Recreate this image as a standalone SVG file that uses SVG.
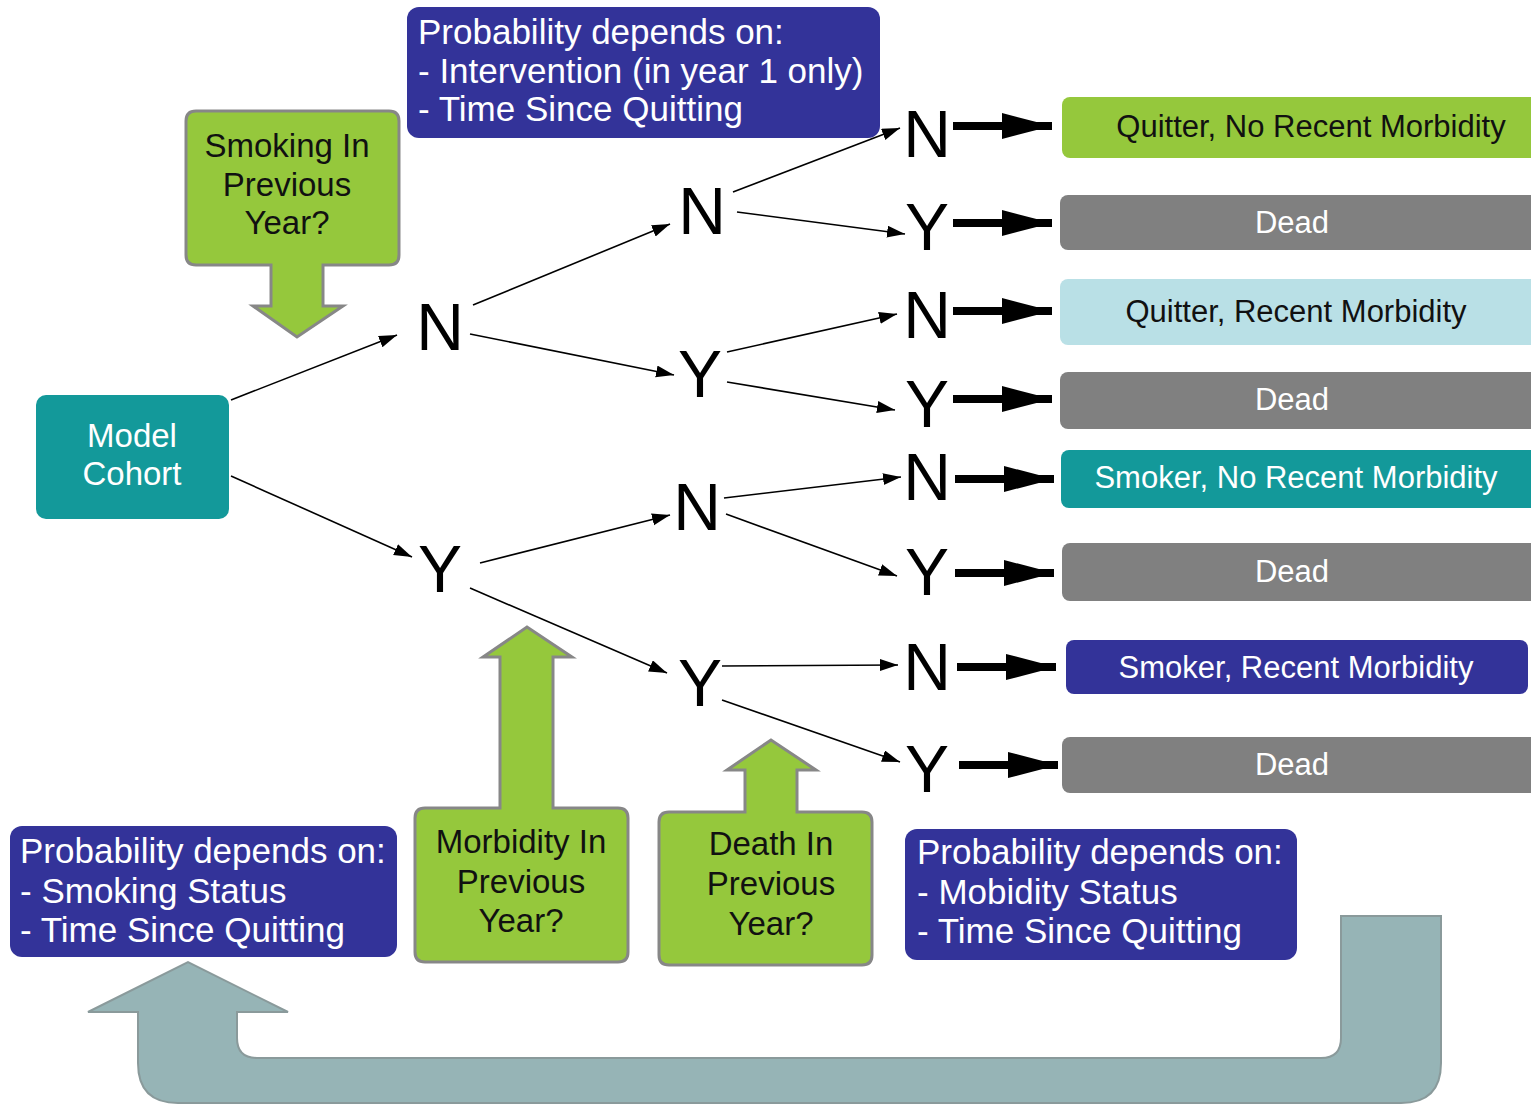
<svg xmlns="http://www.w3.org/2000/svg" width="1531" height="1104" viewBox="0 0 1531 1104">
<style>
text{font-family:"Liberation Sans",Arial,sans-serif}
.call{fill:#95c83c;stroke:#878787;stroke-width:3}
.calltxt{font-size:33px;fill:#111;text-anchor:middle}
.blue{fill:#333399}
.bluetxt{font-size:35px;fill:#fff}
.teal{fill:#13999a}
.gray{fill:#808080}
.green{fill:#95c83c}
.lblue{fill:#b9e0e6}
.leaf{font-size:31px;text-anchor:middle}
.w{fill:#fff}
.d{fill:#111}
.let{font-size:66px;fill:#000;text-anchor:middle}
.thin{stroke:#000;stroke-width:1.6;fill:none;marker-end:url(#sm)}
.thick{stroke:#000;stroke-width:8;fill:none;marker-end:url(#big)}
</style>
<defs>
<marker id="sm" markerUnits="userSpaceOnUse" markerWidth="20" markerHeight="14" refX="18" refY="6" orient="auto"><path d="M0,0 L18,6 L0,12 z" fill="#000"/></marker>
<marker id="big" markerUnits="userSpaceOnUse" markerWidth="54" markerHeight="28" refX="50" refY="13" orient="auto"><path d="M0,0 L50,13 L0,26 z" fill="#000"/></marker>
</defs>
<rect width="1531" height="1104" fill="#fff"/>

<g id="loop-arrow">
<path d="M1441,916 V1063 Q1441,1103 1401,1103 H178 Q138,1103 138,1063 V1012 H88 L188,962 L288,1012 H237 V1038 Q237,1058 257,1058 H1321 Q1341,1058 1341,1038 V916 Z" fill="#96b4b6" stroke="#8a9a9b" stroke-width="2"/>
</g>

<g id="prob-top">
<rect x="407" y="7" width="473" height="131" rx="12" class="blue"/>
<text class="bluetxt" x="418" y="44">Probability depends on:</text>
<text class="bluetxt" x="418" y="83">- Intervention (in year 1 only)</text>
<text class="bluetxt" x="418" y="121">- Time Since Quitting</text>
</g>

<g id="smoking-q">
<path class="call" d="M196,111 H389 Q399,111 399,121 V255 Q399,265 389,265 H323 V306 H343 L297,337 L253,306 H271 V265 H196 Q186,265 186,255 V121 Q186,111 196,111 Z"/>
<text class="calltxt" x="287" y="157">Smoking In</text>
<text class="calltxt" x="287" y="196">Previous</text>
<text class="calltxt" x="287" y="234">Year?</text>
</g>

<g id="model-cohort">
<rect x="36" y="395" width="193" height="124" rx="10" class="teal"/>
<text class="calltxt" x="132" y="447" style="fill:#fff">Model</text>
<text class="calltxt" x="132" y="485" style="fill:#fff">Cohort</text>
</g>

<g id="morbidity-q">
<path class="call" d="M425,808 H500 V657 H483 L527,627 L572,657 H553 V808 H618 Q628,808 628,818 V952 Q628,962 618,962 H425 Q415,962 415,952 V818 Q415,808 425,808 Z"/>
<text class="calltxt" x="521" y="853">Morbidity In</text>
<text class="calltxt" x="521" y="893">Previous</text>
<text class="calltxt" x="521" y="932">Year?</text>
</g>

<g id="death-q">
<path class="call" d="M669,812 H745 V770 H727 L771,740 L816,770 H797 V812 H862 Q872,812 872,822 V955 Q872,965 862,965 H669 Q659,965 659,955 V822 Q659,812 669,812 Z"/>
<text class="calltxt" x="771" y="855">Death In</text>
<text class="calltxt" x="771" y="895">Previous</text>
<text class="calltxt" x="771" y="935">Year?</text>
</g>

<g id="prob-left">
<rect x="10" y="826" width="387" height="131" rx="12" class="blue"/>
<text class="bluetxt" x="20" y="863">Probability depends on:</text>
<text class="bluetxt" x="20" y="903">- Smoking Status</text>
<text class="bluetxt" x="20" y="942">- Time Since Quitting</text>
</g>

<g id="prob-right">
<rect x="905" y="829" width="392" height="131" rx="12" class="blue"/>
<text class="bluetxt" x="917" y="864">Probability depends on:</text>
<text class="bluetxt" x="917" y="904">- Mobidity Status</text>
<text class="bluetxt" x="917" y="943">- Time Since Quitting</text>
</g>

<g id="tree-letters">
<text class="let" x="440" y="350">N</text>
<text class="let" x="440" y="592">Y</text>
<text class="let" x="702" y="234">N</text>
<text class="let" x="700" y="397">Y</text>
<text class="let" x="697" y="530">N</text>
<text class="let" x="700" y="706">Y</text>
<text class="let" x="927" y="157">N</text>
<text class="let" x="927" y="250">Y</text>
<text class="let" x="927" y="338">N</text>
<text class="let" x="927" y="427">Y</text>
<text class="let" x="927" y="500">N</text>
<text class="let" x="927" y="595">Y</text>
<text class="let" x="927" y="690">N</text>
<text class="let" x="927" y="792">Y</text>
</g>

<g id="leaf-1">
<rect x="1062" y="97" width="480" height="61" rx="8" class="green"/>
<text class="leaf d" x="1311" y="137">Quitter, No Recent Morbidity</text>
</g>
<g id="leaf-2">
<rect x="1060" y="195" width="480" height="55" rx="8" class="gray"/>
<text class="leaf w" x="1292" y="233">Dead</text>
</g>
<g id="leaf-3">
<rect x="1060" y="279" width="480" height="66" rx="8" class="lblue"/>
<text class="leaf d" x="1296" y="322">Quitter, Recent Morbidity</text>
</g>
<g id="leaf-4">
<rect x="1060" y="372" width="480" height="57" rx="8" class="gray"/>
<text class="leaf w" x="1292" y="410">Dead</text>
</g>
<g id="leaf-5">
<rect x="1061" y="450" width="480" height="58" rx="8" class="teal"/>
<text class="leaf w" x="1296" y="488">Smoker, No Recent Morbidity</text>
</g>
<g id="leaf-6">
<rect x="1062" y="543" width="480" height="58" rx="8" class="gray"/>
<text class="leaf w" x="1292" y="582">Dead</text>
</g>
<g id="leaf-7">
<rect x="1066" y="640" width="462" height="54" rx="8" class="blue"/>
<text class="leaf w" x="1296" y="678">Smoker, Recent Morbidity</text>
</g>
<g id="leaf-8">
<rect x="1062" y="737" width="480" height="56" rx="8" class="gray"/>
<text class="leaf w" x="1292" y="775">Dead</text>
</g>

<g id="connectors">
<line class="thin" x1="231" y1="400" x2="397" y2="335"/>
<line class="thin" x1="231" y1="476" x2="412" y2="557"/>
<line class="thin" x1="473" y1="305" x2="670" y2="224"/>
<line class="thin" x1="470" y1="334" x2="674" y2="375"/>
<line class="thin" x1="480" y1="563" x2="670" y2="515"/>
<line class="thin" x1="470" y1="588" x2="667" y2="673"/>
<line class="thin" x1="733" y1="192" x2="900" y2="128"/>
<line class="thin" x1="737" y1="212" x2="905" y2="234"/>
<line class="thin" x1="727" y1="352" x2="897" y2="314"/>
<line class="thin" x1="727" y1="382" x2="895" y2="410"/>
<line class="thin" x1="724" y1="498" x2="901" y2="477"/>
<line class="thin" x1="726" y1="514" x2="897" y2="576"/>
<line class="thin" x1="722" y1="666" x2="898" y2="665"/>
<line class="thin" x1="722" y1="700" x2="900" y2="762"/>
<line class="thick" x1="953" y1="126" x2="1052" y2="126"/>
<line class="thick" x1="953" y1="223" x2="1052" y2="223"/>
<line class="thick" x1="953" y1="311" x2="1052" y2="311"/>
<line class="thick" x1="953" y1="399" x2="1052" y2="399"/>
<line class="thick" x1="955" y1="479" x2="1054" y2="479"/>
<line class="thick" x1="955" y1="573" x2="1054" y2="573"/>
<line class="thick" x1="957" y1="667" x2="1056" y2="667"/>
<line class="thick" x1="959" y1="765" x2="1058" y2="765"/>
</g>
</svg>
